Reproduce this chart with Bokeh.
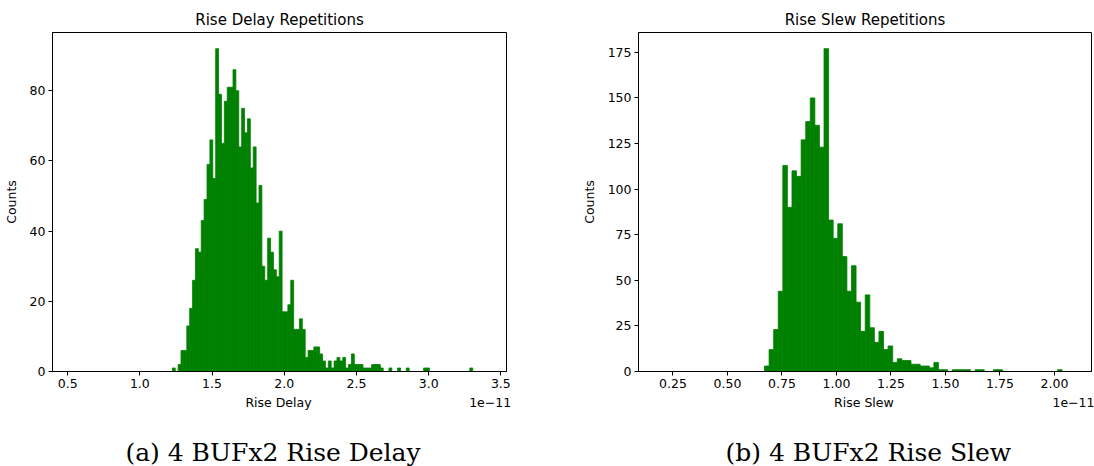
from bokeh.plotting import figure
from bokeh.layouts import row, column
from bokeh.models import (Range1d, FixedTicker, NumeralTickFormatter, LinearAxis,
                          CustomJSTickFormatter, Label)
from bokeh.embed import file_html
from bokeh.resources import INLINE

# ---------------- data (x values in units of 1e-11) ----------------
delay_bin_start = 1.225
delay_bin_width = 0.02
delay_counts = [
    1, 0, 2, 6, 6, 13, 18, 26, 35, 34,
    43, 49, 59, 66, 55, 92, 79, 65, 77, 81,
    81, 86, 80, 64, 75, 68, 72, 58, 64, 48,
    53, 30, 26, 38, 34, 29, 27, 40, 17, 17,
    19, 26, 12, 12, 15, 12, 4, 6, 6, 7,
    7, 5, 3, 1, 3, 1, 3, 4, 3, 4,
    1, 2, 5, 2, 2, 2, 1, 1, 1, 2,
    2, 2, 1, 0, 0, 1, 0, 0, 1, 0,
    0, 1, 0, 0, 0, 0, 0, 1, 1, 0,
    0, 0, 0, 0, 0, 0, 0, 0, 0, 0,
    0, 0, 0, 1,
]
delay_xticks = [0.5, 1.0, 1.5, 2.0, 2.5, 3.0, 3.5]
delay_yticks = [0, 20, 40, 60, 80]

slew_bin_start = 0.670
slew_bin_width = 0.021
slew_counts = [
    3, 12, 23, 44, 113, 90, 110, 107, 127, 137,
    150, 135, 123, 177, 83, 73, 81, 63, 44, 58,
    38, 22, 42, 24, 16, 22, 12, 14, 5, 7,
    6, 6, 4, 4, 3, 3, 2, 5, 1, 1,
    0, 1, 1, 1, 1, 0, 1, 1, 0, 0,
    1, 1, 0, 0, 0, 0, 0, 0, 0, 0,
    0, 0, 0, 0, 1,
]
slew_xticks = [0.25, 0.50, 0.75, 1.00, 1.25, 1.50, 1.75, 2.00]
slew_yticks = [0, 25, 50, 75, 100, 125, 150, 175]

OFFSET_TEXT = "1e\u221211"
CAPTIONS = ["(a) 4 BUFx2 Rise Delay", "(b) 4 BUFx2 Rise Slew"]

SANS = "DejaVu Sans"
SERIF = "DejaVu Serif"

CHART_H = 430
CAP_H = 36


def panel(title, xlabel, start, bw, counts, xr, xticks, yticks, fmt,
          width, mb_left, mb_right, label_pos, offset_pos):
    ymax = max(counts) * 1.05
    p = figure(width=width, height=CHART_H, x_range=Range1d(*xr), y_range=Range1d(0, ymax),
               output_backend="svg", toolbar_location=None, title=title,
               min_border_left=mb_left, min_border_right=mb_right,
               min_border_top=32, min_border_bottom=CHART_H - 371,
               background_fill_color="white", border_fill_color="white")
    lefts = [start + i * bw for i in range(len(counts))]
    rights = [l + bw for l in lefts]
    p.quad(left=lefts, right=rights, bottom=0, top=counts,
           fill_color="#008000", line_color="#008000", line_width=0.8)

    p.xgrid.visible = False
    p.ygrid.visible = False
    p.outline_line_color = "black"
    p.outline_line_width = 1
    p.outline_line_alpha = 1

    p.title.text_font = SANS
    p.title.text_font_size = "15px"
    p.title.text_font_style = "normal"
    p.title.text_color = "black"
    p.title.align = "center"
    p.title.standoff = 7

    p.xaxis.ticker = FixedTicker(ticks=xticks)
    p.xaxis.formatter = NumeralTickFormatter(format=fmt)
    p.yaxis.ticker = FixedTicker(ticks=yticks)
    p.yaxis.axis_label = "Counts"
    for ax in (p.xaxis, p.yaxis):
        ax.axis_line_color = "black"
        ax.major_tick_line_color = "black"
        ax.major_tick_out = 4
        ax.major_tick_in = 0
        ax.minor_tick_out = 0
        ax.minor_tick_in = 0
        ax.major_label_text_font = SANS
        ax.major_label_text_font_size = "12.5px"
        ax.major_label_text_color = "black"
        ax.major_label_standoff = 3
        ax.axis_label_text_font = SANS
        ax.axis_label_text_font_size = "12.5px"
        ax.axis_label_text_font_style = "normal"
        ax.axis_label_text_color = "black"
    p.yaxis.axis_label_standoff = 8

    # second row under the tick labels: the axis name and the offset text
    code = "return tick > %r ? %r : %r;" % ((label_pos + offset_pos) / 2, OFFSET_TEXT, xlabel)
    ax2 = LinearAxis(ticker=FixedTicker(ticks=[label_pos, offset_pos]),
                     formatter=CustomJSTickFormatter(code=code),
                     axis_line_color=None, major_tick_line_color=None,
                     major_tick_out=0, major_tick_in=0,
                     minor_tick_line_color=None, minor_tick_out=0, minor_tick_in=0,
                     major_label_standoff=4,
                     major_label_text_font=SANS, major_label_text_font_size="12.5px",
                     major_label_text_color="black")
    p.add_layout(ax2, "below")
    return p


def caption_fig(text, width, cx):
    c = figure(width=width, height=CAP_H, x_range=Range1d(0, width), y_range=Range1d(0, CAP_H),
               output_backend="svg", toolbar_location=None,
               x_axis_location=None, y_axis_location=None,
               min_border_left=0, min_border_right=0, min_border_top=0, min_border_bottom=0,
               background_fill_color="white", border_fill_color="white")
    c.xgrid.visible = False
    c.ygrid.visible = False
    c.outline_line_color = None
    c.add_layout(Label(x=cx, y=CAP_H - 22, text=text, text_align="center",
                       text_baseline="middle", text_font=SERIF, text_font_size="25px",
                       text_color="black"))
    return c


p1 = panel("Rise Delay Repetitions", "Rise Delay",
           delay_bin_start, delay_bin_width, delay_counts, (0.395, 3.539),
           delay_xticks, delay_yticks, "0.0", 560, 52, 54, 1.96, 3.426)
p2 = panel("Rise Slew Repetitions", "Rise Slew",
           slew_bin_start, slew_bin_width, slew_counts, (0.092, 2.170),
           slew_xticks, slew_yticks, "0.00", 534, 78, 3, 1.126, 2.093)
c1 = caption_fig(CAPTIONS[0], 560, 272)
c2 = caption_fig(CAPTIONS[1], 534, 271)

layout = row(column(p1, c1), column(p2, c2))
open("out.html", "w").write(file_html(layout, INLINE))
